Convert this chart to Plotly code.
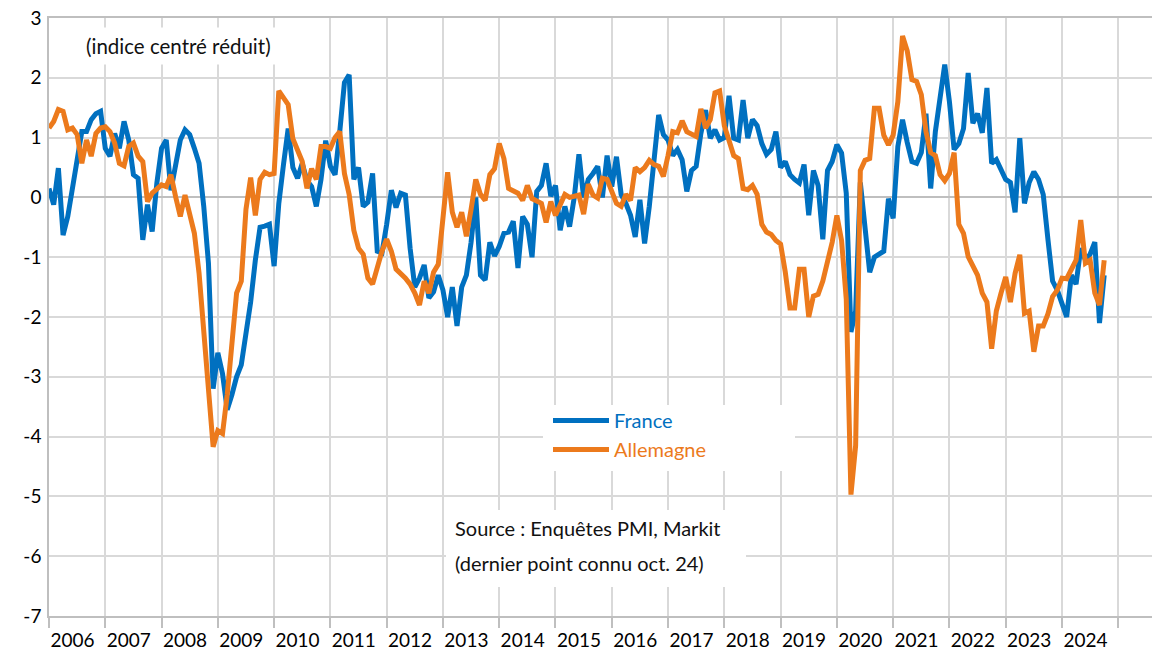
import plotly.graph_objects as go

# ---- data (monthly, Jan 2006 -> Oct 2024) ----
years = [str(y) for y in range(2006, 2025)]

france = [
    0.15, -0.12, 0.49, -0.63, -0.32, 0.12, 0.63, 1.10, 1.10, 1.30, 1.40, 1.44,   # 2006
    0.82, 0.69, 1.07, 0.82, 1.27, 0.96, 0.38, 0.32, -0.71, -0.12, -0.57, 0.24,   # 2007
    0.82, 0.96, 0.12, 0.57, 0.96, 1.13, 1.05, 0.82, 0.57, -0.15, -1.10, -3.20,   # 2008
    -2.60, -2.95, -3.55, -3.30, -3.00, -2.80, -2.30, -1.75, -1.05, -0.50, -0.48, -0.45,  # 2009
    -1.15, -0.10, 0.55, 1.15, 0.50, 0.32, 0.57, 0.28, 0.18, -0.15, 0.30, 0.95,   # 2010
    0.52, 0.38, 1.10, 1.92, 2.05, 0.30, 0.50, -0.15, -0.08, 0.40, -0.90, -0.93,  # 2011
    -0.45, 0.12, -0.17, 0.07, 0.04, -0.85, -1.50, -1.35, -1.13, -1.68, -1.58, -1.30,  # 2012
    -1.55, -2.00, -1.50, -2.15, -1.50, -1.30, -0.75, 0.00, -1.30, -1.38, -0.75, -0.98,  # 2013
    -0.82, -0.60, -0.58, -0.40, -1.18, -0.32, -0.45, -1.00, 0.10, 0.20, 0.57, 0.02,  # 2014
    0.20, -0.55, -0.15, -0.49, 0.00, 0.72, 0.00, 0.30, 0.40, 0.52, 0.00, 0.70,   # 2015
    0.18, 0.68, 0.05, -0.10, -0.30, -0.66, -0.04, -0.77, -0.15, 0.60, 1.38, 1.05,  # 2016
    0.96, 0.70, 0.80, 0.63, 0.10, 0.45, 0.52, 1.07, 1.46, 0.99, 1.13, 0.96,     # 2017
    1.00, 1.70, 0.99, 0.96, 1.63, 0.99, 1.30, 1.20, 0.90, 0.72, 0.80, 1.10,     # 2018
    0.50, 0.60, 0.38, 0.30, 0.24, 0.55, -0.30, 0.45, 0.20, -0.70, 0.45, 0.60,   # 2019
    0.88, 0.74, 0.07, -2.25, -1.90, 0.25, -0.60, -1.25, -1.00, -0.95, -0.90, -0.02,  # 2020
    -0.35, 0.85, 1.30, 0.92, 0.60, 0.57, 0.75, 1.40, 0.15, 1.10, 1.70, 2.22,    # 2021
    1.60, 0.80, 0.90, 1.15, 2.08, 1.24, 1.40, 1.08, 1.83, 0.57, 0.63, 0.45,     # 2022
    0.30, 0.25, -0.25, 0.99, -0.10, 0.25, 0.43, 0.30, 0.05, -0.70, -1.40, -1.55,  # 2023
    -1.80, -2.00, -1.30, -1.45, -0.85, -1.05, -0.95, -0.75, -2.10, -1.30,       # 2024 (to Oct)
]

allemagne = [
    1.16, 1.27, 1.47, 1.44, 1.13, 1.16, 1.05, 0.57, 0.96, 0.69, 1.07, 1.16,     # 2006
    1.18, 1.10, 0.91, 0.57, 0.53, 0.85, 0.91, 0.69, 0.60, -0.07, 0.07, 0.15,    # 2007
    0.21, 0.18, 0.38, 0.01, -0.32, 0.04, -0.27, -0.60, -1.27, -2.16, -3.22, -4.17,  # 2008
    -3.90, -3.95, -3.30, -2.40, -1.60, -1.40, -0.20, 0.33, -0.30, 0.30, 0.42, 0.38,  # 2009
    0.40, 1.78, 1.68, 1.55, 0.98, 0.78, 0.60, 0.15, 0.48, 0.30, 0.85, 0.85,     # 2010
    0.82, 1.00, 1.10, 0.40, 0.05, -0.55, -0.85, -0.95, -1.35, -1.45, -1.15, -0.90,  # 2011
    -0.70, -0.90, -1.20, -1.27, -1.35, -1.45, -1.60, -1.80, -1.40, -1.60, -1.25, -1.12,  # 2012
    -0.30, 0.42, -0.25, -0.50, -0.25, -0.65, -0.20, 0.30, 0.05, -0.05, 0.38, 0.48,  # 2013
    0.90, 0.65, 0.15, 0.10, 0.07, -0.05, 0.20, -0.02, -0.05, -0.10, -0.42, -0.07,  # 2014
    -0.30, -0.10, 0.05, 0.00, 0.02, 0.04, -0.28, 0.22, 0.04, -0.01, 0.32, 0.30,  # 2015
    0.10, -0.10, -0.15, 0.05, -0.05, 0.50, 0.43, 0.50, 0.62, 0.55, 0.52, 0.35,  # 2016
    0.70, 1.10, 1.08, 1.28, 1.10, 1.05, 1.02, 1.48, 1.16, 1.30, 1.75, 1.78,     # 2017
    1.20, 0.95, 0.70, 0.65, 0.15, 0.13, 0.20, 0.05, -0.45, -0.58, -0.62, -0.72,  # 2018
    -0.78, -1.25, -1.85, -1.85, -1.20, -1.20, -2.00, -1.65, -1.62, -1.40, -1.10, -0.75,  # 2019
    -0.30, -0.72, -1.70, -4.97, -4.15, 0.45, 0.62, 0.65, 1.49, 1.49, 1.04, 0.88,  # 2020
    1.04, 1.60, 2.70, 2.45, 1.97, 1.94, 1.72, 1.10, 0.75, 0.70, 0.38, 0.28,     # 2021
    0.40, 0.75, -0.45, -0.60, -0.99, -1.15, -1.30, -1.60, -1.75, -2.53, -1.90, -1.60,  # 2022
    -1.33, -1.75, -1.27, -0.96, -1.94, -1.90, -2.58, -2.15, -2.15, -1.95, -1.66, -1.55,  # 2023
    -1.35, -1.36, -1.20, -1.05, -0.38, -1.10, -1.05, -1.60, -1.80, -1.05,       # 2024 (to Oct)
]

y_ticks = list(range(-7, 4))
y_labels = [str(v) for v in y_ticks]

months = list(range(len(france)))
year_bounds = [12 * i for i in range(len(years) + 1)]
year_label_pos = [12 * i + 5 for i in range(len(years))]

BLUE = "#0070C0"
ORANGE = "#EC7A1C"
FONT = "Lato"

fig = go.Figure()
fig.add_trace(go.Scatter(
    x=months, y=france, mode="lines", name=f"<span style='color:{BLUE}'>France</span>",
    line=dict(color=BLUE, width=5)))
fig.add_trace(go.Scatter(
    x=months, y=allemagne, mode="lines", name=f"<span style='color:{ORANGE}'>Allemagne</span>",
    line=dict(color=ORANGE, width=5)))

# page has an 8px body margin: figure is placed at (8, 8) in the window
OFF = 8
W, H = 1160 - OFF, 651 - OFF
PLOT_L, PLOT_T, PLOT_B, PLOT_R = 49, 18, 616, 1160   # page pixel coords of plot area
L, T, B, R = PLOT_L - OFF, PLOT_T - OFF, 651 - PLOT_B, 0
PW, PH = PLOT_R - PLOT_L, PLOT_B - PLOT_T


def px(xp):
    return (xp - PLOT_L) / PW


def py(yp):
    return (PLOT_B - yp) / PH


fig.update_layout(
    width=W, height=H,
    margin=dict(l=L, r=R, t=T, b=B, autoexpand=False),
    paper_bgcolor="white", plot_bgcolor="white",
    font=dict(family=FONT, color="black", size=19),
    showlegend=True,
    legend=dict(x=px(548), y=py(401), xanchor="left", yanchor="top",
                bgcolor="rgba(255,255,255,0)", font=dict(size=20, family=FONT),
                itemwidth=56, tracegroupgap=0),
    xaxis=dict(range=[0, 236.9], tickmode="array", tickvals=year_label_pos, ticktext=years,
               ticks="outside", ticklen=6, tickcolor="rgba(0,0,0,0)",
               showgrid=False, zeroline=False, automargin=False,
               showline=True, mirror=True, linecolor="#bfbfbf", linewidth=1.5,
               tickfont=dict(size=19, family=FONT, color="black"),
               minor=dict(tickmode="array", tickvals=year_bounds, ticks="outside",
                          ticklen=10, tickcolor="#bfbfbf", tickwidth=1.5,
                          showgrid=True, gridcolor="#d9d9d9", gridwidth=1.5)),
    yaxis=dict(range=[-7, 3], tickmode="array", tickvals=y_ticks, ticktext=y_labels,
               ticks="", showgrid=True, gridcolor="#d9d9d9", gridwidth=1.5,
               zeroline=True, zerolinecolor="#bfbfbf", zerolinewidth=1.5,
               showline=True, linecolor="#bfbfbf", linewidth=1.5,
               ticklabelstandoff=2, ticklabeloverflow="allow", automargin=False,
               tickfont=dict(size=19, family=FONT, color="black")),
)

# white boxes behind legend and source notes (cover gridlines)
fig.add_shape(type="rect", xref="paper", yref="paper",
              x0=px(543), x1=px(795), y0=py(471), y1=py(405),
              fillcolor="white", line=dict(width=0), layer="above")
fig.add_shape(type="rect", xref="paper", yref="paper",
              x0=px(446), x1=px(746), y0=py(587), y1=py(510),
              fillcolor="white", line=dict(width=0), layer="above")

fig.add_annotation(text="(indice centré réduit)", xref="paper", yref="paper",
                   x=px(178), y=py(46), showarrow=False, xanchor="center", yanchor="middle",
                   bgcolor="white", borderpad=6, font=dict(size=20.5, family=FONT, color="#111"))
fig.add_annotation(text="Source : Enquêtes PMI, Markit", xref="paper", yref="paper",
                   x=px(453), y=py(528), showarrow=False, xanchor="left", yanchor="middle",
                   font=dict(size=20, family=FONT, color="#111"))
fig.add_annotation(text="(dernier point connu oct. 24)", xref="paper", yref="paper",
                   x=px(453), y=py(563), showarrow=False, xanchor="left", yanchor="middle",
                   font=dict(size=20, family=FONT, color="#111"))

fig.write_html("out.html")
